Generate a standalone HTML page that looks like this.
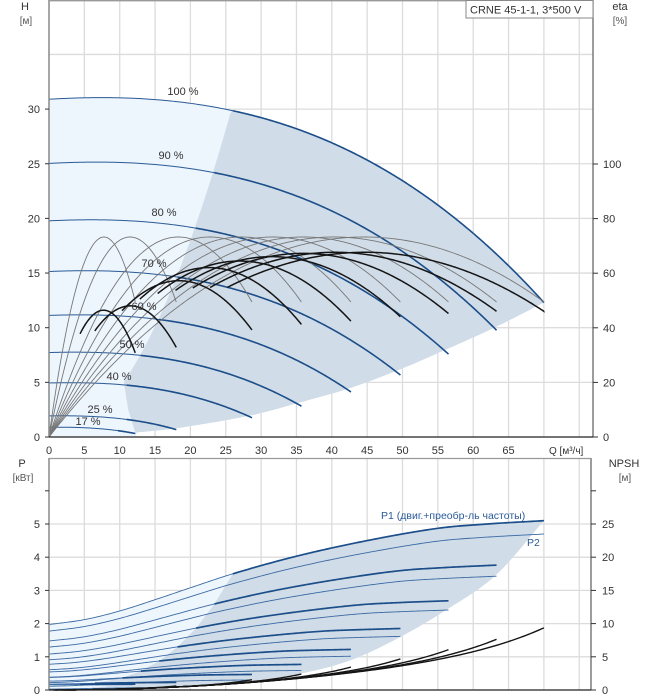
<!DOCTYPE html>
<html><head><meta charset="utf-8"><style>
html,body{margin:0;padding:0;background:#fff;}
svg{display:block;font-family:"Liberation Sans",Arial,sans-serif;}
</style></head><body>
<svg id="s" width="658" height="700" viewBox="0 0 658 700" xmlns="http://www.w3.org/2000/svg">
<rect width="658" height="700" fill="#fff"/>
<g id="g"></g>
</svg>
<script>
var NS="http://www.w3.org/2000/svg",G=document.getElementById('g');
function el(t,a,txt){var e=document.createElementNS(NS,t);for(var k in a)e.setAttribute(k,a[k]);if(txt!=null)e.textContent=txt;G.appendChild(e);return e;}
function X(q){return 49+7.07*q;}
function YT(h){return 437-10.93*h;}
function YB(p){return 690-33.2*p;}
function cr(pts){return function(x){var n=pts.length;if(x<=pts[0][0])return pts[0][1];if(x>=pts[n-1][0]){var a=pts[n-2],b=pts[n-1];return b[1]+(b[1]-a[1])/(b[0]-a[0])*(x-b[0]);}
var i=0;while(pts[i+1][0]<x)i++;var p0=pts[Math.max(i-1,0)],p1=pts[i],p2=pts[i+1],p3=pts[Math.min(i+2,n-1)];var t=(x-p1[0])/(p2[0]-p1[0]);
var m1=(p2[1]-p0[1])/(p2[0]-p0[0])*(p2[0]-p1[0]),m2=(p3[1]-p1[1])/(p3[0]-p1[0])*(p2[0]-p1[0]);var t2=t*t,t3=t2*t;
return (2*t3-3*t2+1)*p1[1]+(t3-2*t2+t)*m1+(-2*t3+3*t2)*p2[1]+(t3-t2)*m2;};}
function path(f,a,b,Y,step){step=step||0.25;var d='';for(var q=a;q<=b+1e-9;q+=step){d+=(d?'L':'M')+X(q).toFixed(2)+' '+Y(f(q)).toFixed(2);}
if((b-a)%step>1e-6)d+='L'+X(b).toFixed(2)+' '+Y(f(b)).toFixed(2);return d;}
function ptsPath(arr,Y){return arr.map(function(p,i){return (i?'L':'M')+X(p[0]).toFixed(2)+' '+Y(p[1]).toFixed(2);}).join('');}
function H(q){return 30.9+0.03886*q-0.002277*q*q-2.962e-5*q*q*q;}
var S=[[1,70],[0.9,63.3],[0.8,56.5],[0.7,49.7],[0.6,42.7],[0.5,35.7],[0.4,28.7],[0.25,18],[0.17,12.2]];
// ---------- TOP CHART ----------
for(var q=5;q<=75;q+=5)el('line',{x1:X(q),y1:1,x2:X(q),y2:437,stroke:'#dcdcdc','stroke-width':1.3});
for(var h=5;h<=35;h+=5)el('line',{x1:49,y1:YT(h),x2:593,y2:YT(h),stroke:'#dcdcdc','stroke-width':1.3});
var lowTop=cr([[12.2,0.4],[18,0.8],[28.7,2.0],[35.7,3.2],[42.7,4.5],[49.7,6.2],[56.5,8.1],[63.3,10.1],[70,12.3]]);
var light=[];for(var q=0;q<=70;q+=0.5)light.push([q,H(q)]);
for(var q=70;q>=12.2;q-=0.5)light.push([q,lowTop(q)]);light.push([12.2,0],[0,0]);
el('path',{d:ptsPath(light,YT)+'Z',fill:'#edf5fd'});
var dark=[];for(var q=25.9;q<=70;q+=0.5)dark.push([q,H(q)]);
for(var q=70;q>=12.2;q-=0.5)dark.push([q,lowTop(q)]);dark.push([12.2,0.4],[11.2,2.5],[10.6,5.0]);
for(var q=10.6;q<=25.9;q+=0.5)dark.push([q,0.045*q*q]);
el('path',{d:ptsPath(dark,YT)+'Z',fill:'#d0dce8'});
S.forEach(function(s){var k=s[0],qe=s[1];var f=function(q){return k*k*H(q/k);};
el('path',{d:path(f,0,qe,YT),fill:'none',stroke:'#2a5a95','stroke-width':1});
var qb=Math.max(26*k,Math.min(11,qe*0.8));el('path',{d:path(f,qb,qe,YT),fill:'none',stroke:'#1c4e8a','stroke-width':1.6});});
S.forEach(function(s){var qe=s[1],qp=qe/1.57,E=18.3;el('path',{d:path(function(q){var x=q/qp;return E*(2*x-x*x);},0,qe,YT,0.2),fill:'none',stroke:'#777','stroke-width':0.9});});
var BE={1:[16.9,11.5],0.9:[16.9,11.5],0.8:[16.8,11.3],0.7:[16.5,11],0.6:[16.1,10.6],0.5:[15.5,10.3],0.4:[14.3,9.8],0.25:[12.0,8.2],0.17:[11.6,7.7]};
S.forEach(function(s){var k=s[0],qe=s[1],E=BE[k][0],r=BE[k][1]/E,xe=1+Math.sqrt(1-r),qp=qe/xe;
el('path',{d:path(function(q){var x=q/qp;return E*(2*x-x*x);},0.36*qe,qe,YT,0.2),fill:'none',stroke:'#151515','stroke-width':1.5});});
el('line',{x1:49,y1:0,x2:49,y2:437,stroke:'#888','stroke-width':1.5});
el('line',{x1:593,y1:0,x2:593,y2:437,stroke:'#666','stroke-width':1.3});
el('line',{x1:49,y1:0.7,x2:593,y2:0.7,stroke:'#999','stroke-width':1.3});
el('line',{x1:49,y1:437,x2:593,y2:437,stroke:'#222','stroke-width':1.3});
[['100 %',183,95],['90 %',171,159],['80 %',164,216],['70 %',154,267],['60 %',144,310],['50 %',132,348],['40 %',119,380],['25 %',100,413],['17 %',88,425]].forEach(function(l){el('text',{x:l[1],y:l[2],'font-size':11,fill:'#333','text-anchor':'middle'},l[0]);});
for(var h=0;h<=30;h+=5){el('text',{x:40,y:YT(h)+4,'font-size':11,fill:'#333','text-anchor':'end'},String(h));el('line',{x1:45,y1:YT(h),x2:49,y2:YT(h),stroke:'#333'});}
for(var e=0;e<=100;e+=20){var y=437-2.73*e;el('text',{x:603,y:y+4,'font-size':11,fill:'#333'},String(e));el('line',{x1:593,y1:y,x2:598,y2:y,stroke:'#333'});}
for(var q=0;q<=65;q+=5)el('text',{x:X(q),y:454,'font-size':11,fill:'#333','text-anchor':'middle'},String(q));
el('text',{x:549,y:454,'font-size':10,fill:'#333'},'Q [м³/ч]');
el('text',{x:25,y:10,'font-size':11,fill:'#333','text-anchor':'middle'},'H');
el('text',{x:26,y:24,'font-size':10,fill:'#555','text-anchor':'middle'},'[м]');
el('text',{x:620,y:10,'font-size':11,fill:'#333','text-anchor':'middle'},'eta');
el('text',{x:620,y:24,'font-size':10,fill:'#555','text-anchor':'middle'},'[%]');
el('rect',{x:466,y:0.5,width:127,height:17.5,fill:'#fff',stroke:'#888','stroke-width':1});
el('text',{x:470,y:13.5,'font-size':11,fill:'#333'},'CRNE 45-1-1, 3*500 V');
// ---------- BOTTOM CHART ----------
for(var q=5;q<=75;q+=5)el('line',{x1:X(q),y1:458,x2:X(q),y2:690,stroke:'#dcdcdc','stroke-width':1.3});
for(var p=1;p<=5;p++)el('line',{x1:49,y1:YB(p),x2:591,y2:YB(p),stroke:'#dcdcdc','stroke-width':1.3});
var P1=cr([[0,1.97],[5,2.12],[10,2.38],[15,2.72],[20,3.08],[26,3.5],[35,4.03],[45,4.5],[55,4.87],[62,5.0],[70,5.1]]);
function P1s(k){return function(q){return k*k*k*(P1(q/k)-0.15)+0.15;};}
function P2s(k){return function(q){return k*k*k*(P1(q/k)*0.935-0.07);};}
var lowB=cr([[12,0.03],[15.6,0.06],[22,0.14],[28.6,0.27],[35.7,0.5],[42.7,0.9],[49.7,1.6],[56.4,2.44],[63.2,3.46],[70,5.1]]);
var lb=[];for(var q=0;q<=70;q+=0.5)lb.push([q,P1(q)]);for(var q=70;q>=12;q-=0.5)lb.push([q,lowB(q)]);lb.push([12,0],[0,0]);
el('path',{d:ptsPath(lb,YB)+'Z',fill:'#edf5fd'});
var db=[];for(var q=26;q<=70;q+=0.5)db.push([q,P1(q)]);for(var q=70;q>=12;q-=0.5)db.push([q,lowB(q)]);
[0.17,0.25,0.4,0.5,0.6,0.7,0.8,0.9,1].forEach(function(k){db.push([26*k,P1s(k)(26*k)]);});
el('path',{d:ptsPath(db,YB)+'Z',fill:'#d0dce8'});
S.forEach(function(s){var k=s[0],qe=s[1];
el('path',{d:path(P2s(k),0,qe,YB),fill:'none',stroke:'#3b6aa3','stroke-width':0.9});
el('path',{d:path(P1s(k),0,qe,YB),fill:'none',stroke:'#3b6aa3','stroke-width':0.9});
el('path',{d:path(P1s(k),26*k,qe,YB),fill:'none',stroke:'#1c4e8a','stroke-width':1.7});});
S.forEach(function(s){var k=s[0],qe=s[1];el('path',{d:path(function(q){return 0.00028*q*q+0.5*k*k*Math.pow(q/qe,8);},0.05*qe,qe,YB),fill:'none',stroke:'#151515','stroke-width':1.4});});
el('line',{x1:49,y1:458,x2:49,y2:690,stroke:'#888','stroke-width':1.5});
el('line',{x1:591,y1:458,x2:591,y2:690,stroke:'#666','stroke-width':1.3});
el('line',{x1:49,y1:458.5,x2:591,y2:458.5,stroke:'#999','stroke-width':1.3});
el('line',{x1:49,y1:690,x2:591,y2:690,stroke:'#222','stroke-width':1.3});
for(var p=0;p<=5;p++){el('text',{x:40,y:YB(p)+4,'font-size':11,fill:'#333','text-anchor':'end'},String(p));}
for(var p=0;p<=6;p++){el('line',{x1:45,y1:YB(p),x2:49,y2:YB(p),stroke:'#333'});el('line',{x1:591,y1:YB(p),x2:596,y2:YB(p),stroke:'#333'});}
for(var p=0;p<=5;p++)el('text',{x:602,y:YB(p)+4,'font-size':11,fill:'#333'},String(p*5));
el('text',{x:22,y:467,'font-size':11,fill:'#333','text-anchor':'middle'},'P');
el('text',{x:23,y:481,'font-size':10,fill:'#555','text-anchor':'middle'},'[кВт]');
el('text',{x:624,y:467,'font-size':11,fill:'#333','text-anchor':'middle'},'NPSH');
el('text',{x:625,y:481,'font-size':10,fill:'#555','text-anchor':'middle'},'[м]');
el('text',{x:381,y:519,'font-size':10.5,fill:'#2a5a9a'},'P1 (двиг.+преобр-ль частоты)');
el('text',{x:527,y:546,'font-size':10.5,fill:'#2a5a9a'},'P2');
</script>
</body></html>
